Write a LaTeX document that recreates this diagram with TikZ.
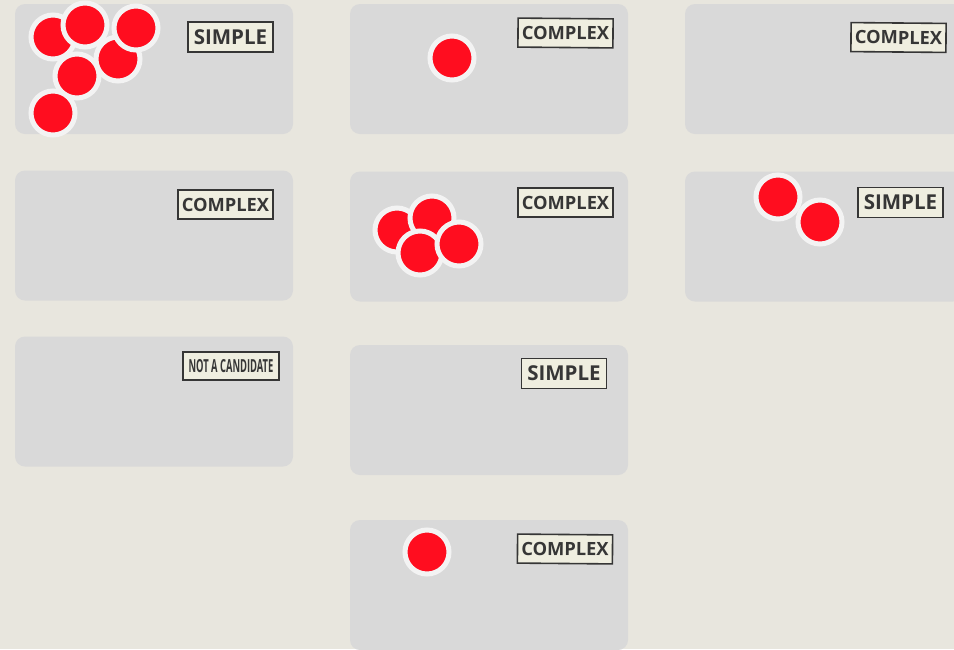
\documentclass[tikz,border=0pt]{standalone}
\usepackage{fontspec}
\setmainfont{Open Sans}
\usepackage{xcolor}
\usetikzlibrary{positioning}

\definecolor{paper}{HTML}{E8E6DE}
\definecolor{panelgray}{HTML}{D9D9D9}
\definecolor{dotred}{HTML}{FF0D1F}
\definecolor{ringwhite}{HTML}{F3F3F3}
\definecolor{stampfill}{HTML}{EFEEE0}
\definecolor{stampink}{HTML}{363636}

\begin{document}
\begin{tikzpicture}[x=1pt,y=-1pt,
    panel/.style={fill=panelgray,rounded corners=10pt,minimum width=278pt,minimum height=130pt,inner sep=0pt},
    dot/.style={circle,fill=dotred,draw=ringwhite,line width=5pt,minimum size=44pt,inner sep=0pt},
    stamp/.style={draw=stampink,line width=1.6pt,fill=stampfill,text=stampink,font=\bfseries,inner sep=0pt,minimum height=30pt},
    simple/.style={stamp,minimum width=85pt,font=\fontsize{20.5}{20}\selectfont\bfseries},
    complex/.style={stamp,minimum width=95pt,minimum height=29pt,font=\fontsize{18.3}{18}\selectfont\bfseries},
    notcand/.style={stamp,minimum width=96pt,minimum height=28pt,font=\fontsize{18}{18}\selectfont\bfseries}]
  \useasboundingbox (0,0) rectangle (954,649);
  \clip (0,0) rectangle (954,649);
  \fill[paper] (0,0) rectangle (954,649);

  % panels
  \node[panel] (p11) at (154,69) {};
  \node[panel] (p12) at (154,235.5) {};
  \node[panel] (p13) at (154,401.5) {};
  \node[panel] (p21) at (489,69) {};
  \node[panel] (p22) at (489,236.5) {};
  \node[panel] (p23) at (489,410) {};
  \node[panel] (p24) at (489,585) {};
  \node[panel] (p31) at (824,69) {};
  \node[panel] (p32) at (824,236.5) {};

  % stamps
  \node[simple] (s11) at (230.5,37) {SIMPLE};
  \node[complex] (s12) at (225.5,204.5) {COMPLEX};
  \node[notcand] (s13) at (231,366) {\scalebox{0.52}[1]{NOT A CANDIDATE}};
  \node[complex,rotate=-0.5] (s21) at (565.5,33) {COMPLEX};
  \node[complex] (s22) at (565.5,202.5) {COMPLEX};
  \node[simple] (s23) at (564,373.5) {SIMPLE};
  \node[complex,rotate=-0.5] (s24) at (565,549) {COMPLEX};
  \node[complex,rotate=-0.5] (s31) at (898.5,37.5) {COMPLEX};
  \node[simple] (s32) at (900.5,202.5) {SIMPLE};

  % dots
  \node[dot] (d1a) at (53,37) {};
  \node[dot] (d1b) at (118,59) {};
  \node[dot] (d1c) at (85,25) {};
  \node[dot] (d1d) at (136,28) {};
  \node[dot] (d1e) at (77,76) {};
  \node[dot] (d1f) at (53,113) {};
  \node[dot] (d2a) at (452,58) {};
  \node[dot] (d3a) at (397,230) {};
  \node[dot] (d3b) at (432,218) {};
  \node[dot] (d3c) at (420,253) {};
  \node[dot] (d3d) at (459,244) {};
  \node[dot] (d4a) at (778,197) {};
  \node[dot] (d4b) at (820,222) {};
  \node[dot] (d5a) at (427,552) {};
\end{tikzpicture}
\end{document}
